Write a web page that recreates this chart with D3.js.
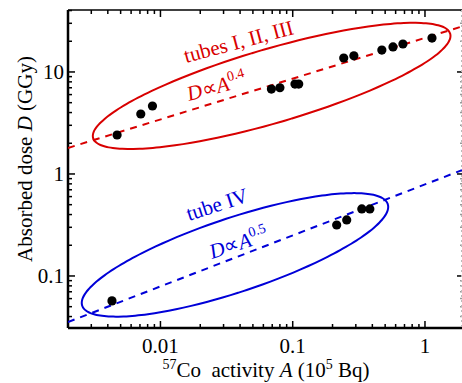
<!DOCTYPE html>
<html>
<head>
<meta charset="utf-8">
<script src="https://cdn.jsdelivr.net/npm/d3@7"></script>
<style>
  body { margin: 0; background: #fff; }
  text { font-family: "Liberation Serif", "Times New Roman", serif; }
</style>
</head>
<body>
<div id="chart"></div>
<script>
// tubes I, II, III
var actA1 = [0.0047, 0.0071, 0.0087, 0.069, 0.080, 0.104, 0.111, 0.243, 0.29, 0.472, 0.573, 0.681, 1.13];
var dose1 = [2.41, 3.87, 4.64, 6.8, 7.0, 7.6, 7.6, 13.7, 14.4, 16.4, 17.6, 18.8, 21.5];
// tube IV
var actA2 = [0.0043, 0.215, 0.256, 0.333, 0.383];
var dose2 = [0.057, 0.316, 0.354, 0.454, 0.454];
// power-law fits D = k * A^p
var fitK = [21.6, 0.79];
var fitP = [0.4, 0.5];
var xTickVals = [0.01, 0.1, 1];
var xTickLabels = ["0.01", "0.1", "1"];
var yTickVals = [0.1, 1, 10];
var yTickLabels = ["0.1", "1", "10"];

var W = 462, H = 383;
var L = 68, R = 462, T = 10, B = 328;
var red = "#d80000", blue = "#0000d8";

var svg = d3.select("#chart").append("svg").attr("width", W).attr("height", H);

var x = d3.scaleLog().domain([0.002, 1.905]).range([L, R]);
var y = d3.scaleLog().domain([0.0309, 40.5]).range([B, T]);

// minor + major ticks
function logTicks(dom) {
  var out = [];
  for (var e = -4; e <= 3; e++) {
    for (var m = 1; m <= 9; m++) {
      var v = m * Math.pow(10, e);
      if (v >= dom[0] && v <= dom[1]) out.push({v: v, major: m === 1});
    }
  }
  return out;
}
var xt = logTicks(x.domain()), yt = logTicks(y.domain());

var g = svg.append("g");
// bottom / top ticks
g.selectAll(".xb").data(xt).enter().append("line")
  .attr("x1", d => x(d.v)).attr("x2", d => x(d.v))
  .attr("y1", B).attr("y2", d => B - (d.major ? 7 : 4))
  .attr("stroke", "#000").attr("stroke-width", 1.5);
g.selectAll(".xt").data(xt).enter().append("line")
  .attr("x1", d => x(d.v)).attr("x2", d => x(d.v))
  .attr("y1", T).attr("y2", d => T + (d.major ? 7 : 4))
  .attr("stroke", "#000").attr("stroke-width", 1.5);
g.selectAll(".yl").data(yt).enter().append("line")
  .attr("y1", d => y(d.v)).attr("y2", d => y(d.v))
  .attr("x1", L).attr("x2", d => L + (d.major ? 7 : 4))
  .attr("stroke", "#000").attr("stroke-width", 1.5);
g.selectAll(".yr").data(yt).enter().append("line")
  .attr("y1", d => y(d.v)).attr("y2", d => y(d.v))
  .attr("x1", R).attr("x2", d => R - (d.major ? 5 : 2))
  .attr("stroke", d => d.major ? "#000" : "#999").attr("stroke-width", 1.5);

// frame
g.append("line").attr("x1", L).attr("x2", R).attr("y1", T).attr("y2", T).attr("stroke", "#000").attr("stroke-width", 1.5);
g.append("line").attr("x1", L).attr("x2", R).attr("y1", B).attr("y2", B).attr("stroke", "#000").attr("stroke-width", 2.5);
g.append("line").attr("x1", L).attr("x2", L).attr("y1", T).attr("y2", B).attr("stroke", "#000").attr("stroke-width", 2.5);
g.append("line").attr("x1", R - 0.5).attr("x2", R - 0.5).attr("y1", T).attr("y2", B)
  .attr("stroke", "#bbb").attr("stroke-width", 1).attr("stroke-dasharray", "2,3");

// tick labels
svg.selectAll(".xl").data(xTickVals).enter().append("text")
  .attr("x", d => x(d)).attr("y", 353)
  .attr("text-anchor", "middle").attr("font-size", 21)
  .text((d, i) => xTickLabels[i]);
svg.selectAll(".ylab").data(yTickVals).enter().append("text")
  .attr("x", L - 4).attr("y", d => y(d) + 7)
  .attr("text-anchor", "end").attr("font-size", 21)
  .text((d, i) => yTickLabels[i]);

// axis titles
var xl = svg.append("text").attr("x", 266).attr("y", 377).attr("text-anchor", "middle").attr("font-size", 21);
xl.append("tspan").attr("font-size", 14).attr("dy", -8).text("57");
xl.append("tspan").attr("dy", 8).text("Co\u00A0 activity ");
xl.append("tspan").attr("font-style", "italic").text("A");
xl.append("tspan").text(" (10");
xl.append("tspan").attr("font-size", 14).attr("dy", -8).text("5");
xl.append("tspan").attr("dy", 8).text(" Bq)");

var yl = svg.append("text").attr("transform", "translate(32,159) rotate(-90)")
  .attr("text-anchor", "middle").attr("font-size", 21);
yl.append("tspan").text("Absorbed dose ");
yl.append("tspan").attr("font-style", "italic").text("D");
yl.append("tspan").text(" (GGy)");

// clip for plot area
svg.append("clipPath").attr("id", "clip").append("rect")
  .attr("x", L).attr("y", T).attr("width", R - L).attr("height", B - T);
var plot = svg.append("g").attr("clip-path", "url(#clip)");

// fit lines
var line = d3.line().x(d => x(d[0])).y(d => y(d[1]));
[0, 1].forEach(function (i) {
  var dom = x.domain();
  plot.append("path")
    .datum([[dom[0], fitK[i] * Math.pow(dom[0], fitP[i])], [dom[1], fitK[i] * Math.pow(dom[1], fitP[i])]])
    .attr("d", line).attr("fill", "none")
    .attr("stroke", i === 0 ? red : blue).attr("stroke-width", 2)
    .attr("stroke-dasharray", "7,6");
});

// ellipses around groups (center in data units, axes in px)
var ellipses = [
  {cA: 0.0693, cD: 7.3, a: 186, b: 37, ang: 16.3, col: red},
  {cA: 0.0366, cD: 0.161, a: 161, b: 37, ang: 18.4, col: blue}
];
ellipses.forEach(function (e) {
  var cx = x(e.cA), cy = y(e.cD), th = e.ang * Math.PI / 180;
  var pts = d3.range(0, 361, 3).map(function (t) {
    t = t * Math.PI / 180;
    return [cx + e.a * Math.cos(t) * Math.cos(th) - e.b * Math.sin(t) * Math.sin(th),
            cy - (e.a * Math.cos(t) * Math.sin(th) + e.b * Math.sin(t) * Math.cos(th))];
  });
  plot.append("path").datum(pts).attr("d", d3.line().curve(d3.curveCardinalClosed))
    .attr("fill", "none").attr("stroke", e.col).attr("stroke-width", 2);
});

// points
plot.selectAll(".p1").data(actA1).enter().append("circle")
  .attr("cx", d => x(d)).attr("cy", (d, i) => y(dose1[i])).attr("r", 4.6).attr("fill", "#000");
plot.selectAll(".p2").data(actA2).enter().append("circle")
  .attr("cx", d => x(d)).attr("cy", (d, i) => y(dose2[i])).attr("r", 4.6).attr("fill", "#000");

// annotations
function label(tx, ty, ang, col, parts) {
  var t = svg.append("text").attr("transform", "translate(" + tx + "," + ty + ") rotate(" + ang + ")")
    .attr("fill", col).attr("font-size", 21);
  parts.forEach(function (p) {
    var s = t.append("tspan").text(p.t);
    if (p.i) s.attr("font-style", "italic");
    if (p.sup) s.attr("font-size", 14).attr("dy", -9);
  });
}
label(186, 63, -15, red, [{t: "tubes I, II, III"}]);
label(189, 101, -15, red, [{t: "D", i: 1}, {t: "\u221D"}, {t: "A", i: 1}, {t: "0.4", sup: 1}]);
label(189, 221, -18, blue, [{t: "tube IV"}]);
label(212, 259, -18, blue, [{t: "D", i: 1}, {t: "\u221D"}, {t: "A", i: 1}, {t: "0.5", sup: 1}]);
</script>
</body>
</html>
